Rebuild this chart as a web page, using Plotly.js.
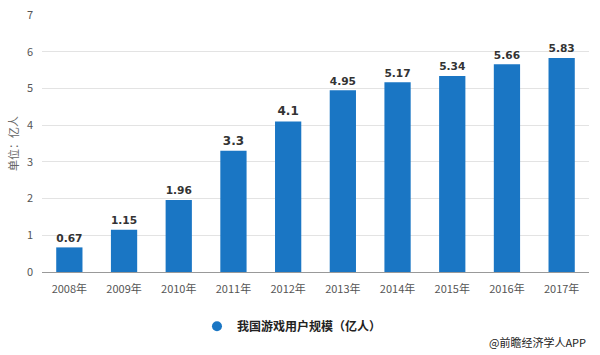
<!DOCTYPE html>
<html><head><meta charset="utf-8">
<script src="https://cdn.plot.ly/plotly-3.0.1.min.js"></script>
<style>body{margin:0;background:#fff}#c{width:600px;height:355px}</style>
</head><body><div id="c"></div>
<script>
const years = ['2008年','2009年','2010年','2011年','2012年','2013年','2014年','2015年','2016年','2017年'];
const users = [0.67, 1.15, 1.96, 3.3, 4.1, 4.95, 5.17, 5.34, 5.66, 5.83];
const seriesName = '我国游戏用户规模（亿人）';
const yTicks = [0,1,2,3,4,5,6,7];
const barColor = '#1a76c4';
const font = 'Microsoft YaHei, "Noto Sans CJK SC", sans-serif';

const data = [
  {type:'bar', x: years, y: users, marker:{color:barColor}, showlegend:false,
   text: users.map(String), textposition:'outside', cliponaxis:false,
   textfont:{family:'"DejaVu Sans", Verdana, sans-serif', size:12, color:'#333'},
   texttemplate:'<b>%{text}</b>', hoverinfo:'none'},
  {type:'scatter', mode:'markers', x:[null], y:[null], name: seriesName,
   marker:{color:barColor, size:10, symbol:'circle'}, showlegend:true}
];
const layout = {
  width:600, height:355, margin:{l:42, r:11, t:15, b:83},
  paper_bgcolor:'#fff', plot_bgcolor:'#fff',
  font:{family:font, size:11, color:'#555'},
  bargap:0.52,
  xaxis:{type:'category', showgrid:false, showline:true, linecolor:'#999', linewidth:1,
    ticks:'', tickfont:{size:11, color:'#555'}, zeroline:false, ticklabelstandoff:7},
  yaxis:{range:[0,7], tickvals:yTicks, showgrid:true, gridcolor:'#e3e3e3', zeroline:false,
    showline:false, ticks:'', tickfont:{size:11, color:'#555'}, ticklabelstandoff:8,
    title:{text:'单位：亿人', font:{size:11, color:'#666'}, standoff:6}},
  legend:{orientation:'h', x:0.457, xanchor:'center', y:-0.155, yanchor:'top',
    font:{size:12, color:'#222', family:font, weight:'bold'}, itemwidth:30},
  annotations:[{text:'@前瞻经济学人APP', xref:'paper', yref:'paper', x:0.998, y:-0.235,
    xanchor:'right', yanchor:'top', showarrow:false, font:{size:11, color:'#222'}}]
};
Plotly.newPlot('c', data, layout, {displayModeBar:false, staticPlot:true});
</script></body></html>
